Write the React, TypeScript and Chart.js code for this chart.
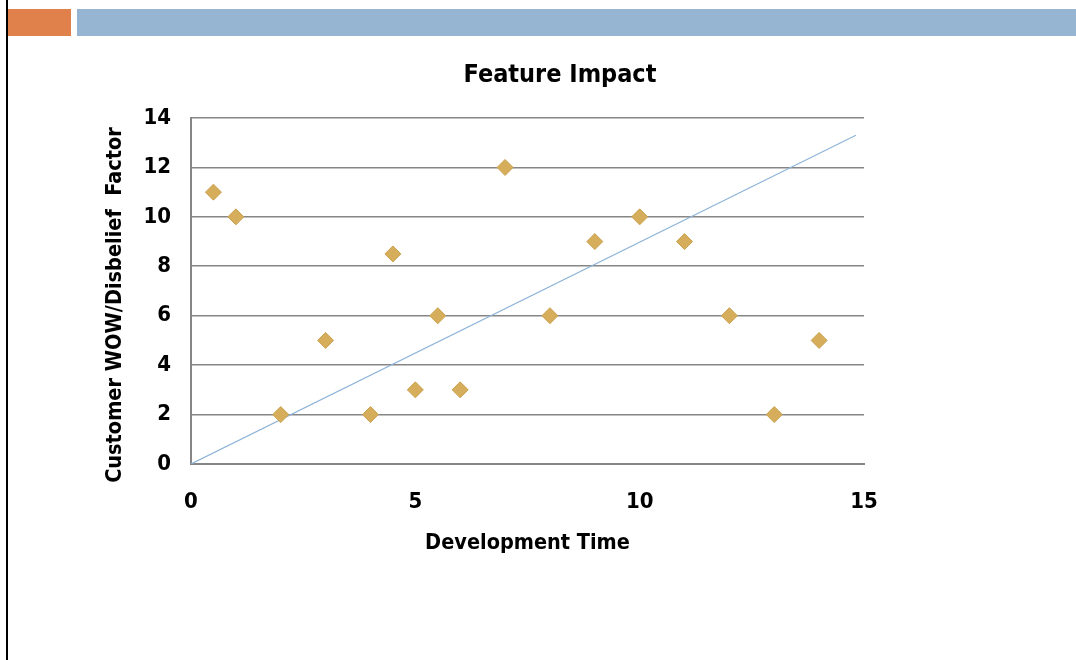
import React, { useEffect, useRef } from "react";
import { Chart, registerables } from "chart.js";

Chart.register(...registerables);

const devTime = [0.5, 1, 2, 3, 4, 4.5, 5, 5.5, 6, 7, 8, 9, 10, 11, 12, 13, 14];
const wowFactor = [11, 10, 2, 5, 2, 8.5, 3, 6, 3, 12, 6, 9, 10, 9, 6, 2, 5];
const trendX = [0, 14.82];
const trendY = [0, 13.3];
const xTicks = [0, 5, 10, 15];
const yTicks = [0, 2, 4, 6, 8, 10, 12, 14];
const yAxisTitle = "Customer WOW/Disbelief  Factor";

const FONT = "'DejaVu Sans Condensed', 'DejaVu Sans', sans-serif";

const yTitlePlugin = {
  id: "yTitleShifted",
  afterDraw(chart: any) {
    const ctx = chart.ctx;
    const area = chart.chartArea;
    ctx.save();
    ctx.translate(115, (area.top + area.bottom) / 2 + 14);
    ctx.rotate(-Math.PI / 2);
    ctx.font = `bold 21.5px ${FONT}`;
    ctx.fillStyle = "#000";
    ctx.textAlign = "center";
    ctx.textBaseline = "middle";
    ctx.fillText(yAxisTitle, 0, 0);
    ctx.restore();
  },
};

export default function App() {
  const ref = useRef<HTMLCanvasElement | null>(null);

  useEffect(() => {
    if (!ref.current) return;
    const chart = new Chart(ref.current, {
      type: "scatter",
      data: {
        datasets: [
          {
            label: "Trend",
            type: "line",
            data: trendX.map((x, i) => ({ x, y: trendY[i] })),
            borderColor: "#8FB4D9",
            borderWidth: 1.2,
            pointRadius: 0,
            fill: false,
            order: 2,
          },
          {
            label: "Features",
            data: devTime.map((x, i) => ({ x, y: wowFactor[i] })),
            pointStyle: "rectRot",
            pointRadius: 8,
            backgroundColor: "#D6AE5B",
            borderColor: "#C9A150",
            borderWidth: 1,
            order: 1,
          },
        ],
      },
      options: {
        animation: false,
        responsive: false,
        layout: { padding: { left: 100, right: 56, top: 52, bottom: 96 } },
        plugins: {
          legend: { display: false },
          tooltip: { enabled: false },
          title: {
            display: true,
            text: "Feature Impact",
            color: "#000",
            font: { family: FONT, size: 25, weight: "bold" },
            padding: { top: 8, bottom: 28 },
          },
        },
        scales: {
          x: {
            type: "linear",
            min: 0,
            max: 15,
            afterBuildTicks: (axis: any) => {
              axis.ticks = xTicks.map((v) => ({ value: v }));
            },
            afterFit: (axis: any) => {
              axis.height = 100;
            },
            grid: { display: false, drawTicks: false },
            border: { display: true, color: "#868686", width: 2 },
            ticks: {
              color: "#000",
              padding: 25,
              font: { family: FONT, size: 22, weight: "bold" },
            },
            title: {
              display: true,
              text: "Development Time",
              color: "#000",
              font: { family: FONT, size: 21.5, weight: "bold" },
              padding: { top: 0, bottom: 8 },
            },
          },
          y: {
            type: "linear",
            position: "left",
            min: 0,
            max: 14,
            afterBuildTicks: (axis: any) => {
              axis.ticks = yTicks.map((v) => ({ value: v }));
            },
            afterFit: (axis: any) => {
              axis.width = 91;
            },
            grid: { display: true, color: "#868686", lineWidth: 1.6, drawTicks: false },
            border: { display: true, color: "#868686", width: 2 },
            ticks: {
              color: "#000",
              padding: 20,
              font: { family: FONT, size: 22, weight: "bold" },
            },
            title: { display: false },
          },
          y2: {
            type: "linear",
            position: "right",
            min: 0,
            max: 14,
            display: true,
            afterFit: (axis: any) => {
              axis.width = 156;
            },
            grid: { display: false, drawTicks: false },
            border: { display: false },
            ticks: { display: false },
          },
        },
      },
      plugins: [yTitlePlugin],
    });
    return () => chart.destroy();
  }, []);

  return (
    <div style={{ position: "absolute", left: 0, top: 0, width: 1076, height: 660, background: "#fff", overflow: "hidden" }}>
      <div style={{ position: "absolute", left: 6, top: 0, width: 2, height: 660, background: "#000" }} />
      <div style={{ position: "absolute", left: 8, top: 9, width: 63, height: 27, background: "#E0804A" }} />
      <div style={{ position: "absolute", left: 77, top: 9, width: 999, height: 27, background: "#95B5D3" }} />
      <canvas ref={ref} width={1076} height={660} style={{ position: "absolute", left: 0, top: 0 }} />
    </div>
  );
}
